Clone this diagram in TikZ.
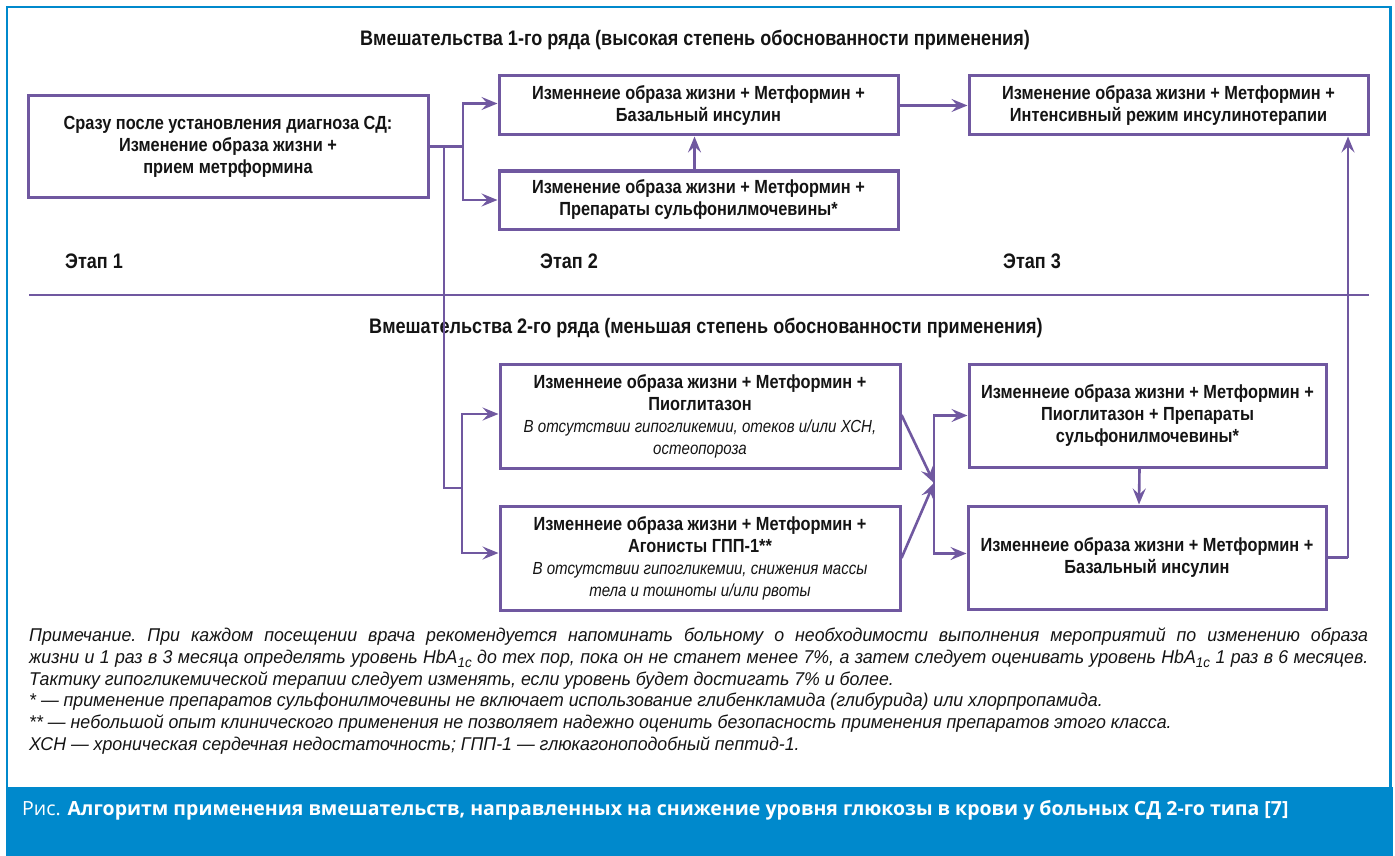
\documentclass[tikz,border=0pt]{standalone}
\usepackage{fontspec}
\setmainfont{Liberation Sans}
\newfontfamily\condfont[FakeStretch=0.86]{Liberation Sans}
\newfontfamily\notefont[FakeStretch=0.96]{Liberation Sans}
\newfontfamily\capfont{Open Sans}
\newcommand{\remarkfont}{\mdseries\itshape\fontsize{17.5}{22.3}\selectfont}
\usetikzlibrary{arrows.meta, calc}
\definecolor{framecol}{RGB}{0,137,204}
\definecolor{linecol}{RGB}{112,88,160}
\definecolor{inkcol}{RGB}{20,20,20}

\begin{document}
\begin{tikzpicture}[
    x=1pt, y=-1pt,
    box/.style={draw=linecol, line width=3pt, inner sep=2pt, align=center, text=inkcol,
        font=\condfont\bfseries\fontsize{19}{22}\selectfont},
    head/.style={text=inkcol, inner sep=0pt, font=\condfont\bfseries\fontsize{21}{24}\selectfont},
    arrow/.style={draw=linecol, line width=2.6pt, -{Stealth[length=16pt, width=13pt, inset=6pt]}},
    link/.style={draw=linecol, line width=2.6pt},
    notes/.style={text=inkcol, inner sep=0pt, text width=1339pt, align=justify,
        font=\notefont\itshape\fontsize{18.5}{21.7}\selectfont},
]
\useasboundingbox (0,0) rectangle (1395,856);

% frame and caption band
\draw[framecol, line width=2.5pt] (7,7) rectangle (1390.5,790);
\fill[framecol] (6,787) rectangle (1393,856);

\node[head] (title_a) at (695,40) {Вмешательства 1-го ряда (высокая степень обоснованности применения)};
\node[head] (title_b) at (706,328) {Вмешательства 2-го ряда (меньшая степень обоснованности применения)};

\node[head, anchor=west] (stage_a) at (65,261) {Этап 1};
\node[head, anchor=west] (stage_b) at (540,261) {Этап 2};
\node[head, anchor=west] (stage_c) at (1003,261) {Этап 3};

\draw[link] (29,295) -- (1369,295);

\node[box, minimum width=400pt, minimum height=101pt] (start) at (228,146.5)
    {Сразу после установления диагноза СД:\\Изменение образа жизни +\\прием метрформина};
\node[box, minimum width=399pt, minimum height=59pt] (basal_a) at (698.5,105.5)
    {Изменнеие образа жизни + Метформин +\\Базальный инсулин};
\node[box, minimum width=399pt, minimum height=58pt] (sulf_a) at (698.5,200)
    {Изменение образа жизни + Метформин +\\Препараты сульфонилмочевины*};
\node[box, minimum width=399pt, minimum height=59pt] (intens) at (1168.5,105.5)
    {Изменение образа жизни + Метформин +\\Интенсивный режим инсулинотерапии};

\node[box, minimum width=400pt, minimum height=104pt] (pio) at (700,416)
    {Изменнеие образа жизни + Метформин +\\Пиоглитазон\\{\remarkfont В отсутствии гипогликемии, отеков и/или ХСН,}\\{\remarkfont остеопороза}};
\node[box, minimum width=400pt, minimum height=104pt] (glp) at (700,558)
    {Изменнеие образа жизни + Метформин +\\Агонисты ГПП-1**\\{\remarkfont В отсутствии гипогликемии, снижения массы}\\{\remarkfont тела и тошноты и/или рвоты}};
\node[box, minimum width=357pt, minimum height=103pt] (pio_sulf) at (1147.5,415.5)
    {Изменнеие образа жизни + Метформин +\\Пиоглитазон + Препараты\\сульфонилмочевины*};
\node[box, minimum width=358pt, minimum height=103pt] (basal_b) at (1147,557.5)
    {Изменнеие образа жизни + Метформин +\\Базальный инсулин};

\coordinate (split_a) at (463,146.5);
\coordinate (drop) at (444,146.5);
\coordinate (split_b) at (462,488);
\coordinate (merge) at (934,483);
\coordinate (rise) at (1348,557.5);

\draw[link] (start.east) -- (split_a);
\draw[arrow] (split_a) |- ($(basal_a.west)+(0,-2)$);
\draw[arrow] (split_a) |- (sulf_a.west);
\draw[arrow] ($(sulf_a.north)+(-4,0)$) -- ($(basal_a.south)+(-4,0)$);
\draw[arrow] (basal_a.east) -- (intens.west);

\draw[link] (drop) |- (split_b);
\draw[arrow] (split_b) |- ($(pio.west)+(0,-2)$);
\draw[arrow] (split_b) |- ($(glp.west)+(0,-5)$);
\draw[arrow] ($(pio.east)+(0,-1)$) -- (merge);
\draw[arrow] (glp.east) -- (merge);
\draw[arrow] (merge) |- (pio_sulf.west);
\draw[arrow] (merge) |- ($(basal_b.west)+(0,-4)$);
\draw[arrow] ($(pio_sulf.south)+(-8,0)$) -- ($(basal_b.north)+(-8,0)$);
\draw[link] (basal_b.east) -- (rise);
\draw[arrow] (rise) -- (rise |- intens.south);

\node[notes, anchor=north west] (note) at (29,628) {\frenchspacing Примечание. При каждом посещении врача рекомендуется напоминать больному о необходимости выполнения мероприятий по изменению образа\linebreak
жизни и 1 раз в 3 месяца определять уровень HbA\raisebox{-4pt}{\fontsize{14}{14}\selectfont 1c} до тех пор, пока он не станет менее 7\%, а затем следует оценивать уровень HbA\raisebox{-4pt}{\fontsize{14}{14}\selectfont 1c} 1 раз в 6 месяцев.\linebreak
Тактику гипогликемической терапии следует изменять, если уровень будет достигать 7\% и более.\\
{*} — применение препаратов сульфонилмочевины не включает использование глибенкламида (глибурида) или хлорпропамида.\\
{**} — небольшой опыт клинического применения не позволяет надежно оценить безопасность применения препаратов этого класса.\\
ХСН — хроническая сердечная недостаточность; ГПП-1 — глюкагоноподобный пептид-1.};

\node[anchor=west, inner sep=0pt, text=white, font=\capfont\fontsize{19.5}{22}\selectfont] (caption) at (22,810)
    {Рис. \textbf{Алгоритм применения вмешательств, направленных на снижение уровня глюкозы в крови у больных СД 2-го типа [7]}};

\end{tikzpicture}
\end{document}
